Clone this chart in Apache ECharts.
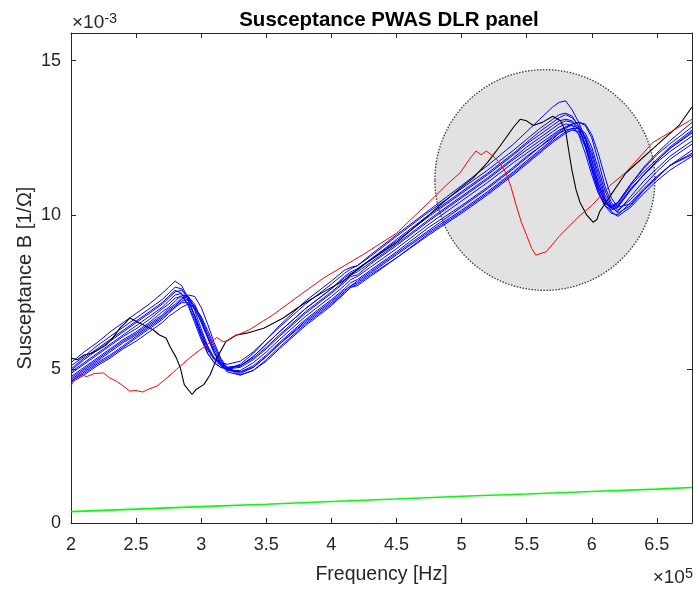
<!DOCTYPE html>
<html>
<head>
<meta charset="utf-8">
<script src="https://cdn.jsdelivr.net/npm/echarts@6/dist/echarts.min.js"></script>
<style>
html,body{margin:0;padding:0;background:#fff;}
#chart{width:696px;height:590px;}
</style>
</head>
<body>
<div id="chart"></div>
<script>
// ---------------- DATA (x in 1e5 Hz, y in 1e-3 S) ----------------
const xTicks = [2, 2.5, 3, 3.5, 4, 4.5, 5, 5.5, 6, 6.5];
const yTicks = [0, 5, 10, 15];

const greenX = [2.0, 2.5, 3.0, 3.5, 4.0, 4.5, 5.0, 5.5, 6.0, 6.5, 6.77];
const greenY = [0.37, 0.45, 0.53, 0.61, 0.70, 0.78, 0.87, 0.94, 1.02, 1.10, 1.15];

const blackX = [2.0, 2.05, 2.1, 2.15, 2.2, 2.27, 2.32, 2.38, 2.42, 2.45, 2.5, 2.53, 2.58, 2.63, 2.68, 2.73, 2.76, 2.81, 2.84, 2.87, 2.93, 2.96, 3.02, 3.07, 3.12, 3.19, 3.27, 3.35, 3.48, 3.63, 3.78, 3.94, 4.09, 4.22, 4.5, 4.75, 4.83, 5.0, 5.09, 5.2, 5.29, 5.4, 5.45, 5.5, 5.55, 5.62, 5.7, 5.76, 5.8, 5.83, 5.85, 5.88, 5.91, 5.96, 6.01, 6.04, 6.06, 6.14, 6.26, 6.47, 6.67, 6.77];
const blackY = [5.35, 5.3, 5.45, 5.5, 5.6, 5.78, 6.0, 6.35, 6.5, 6.65, 6.55, 6.48, 6.38, 6.27, 6.1, 6.0, 5.73, 5.35, 5.03, 4.49, 4.17, 4.33, 4.49, 4.82, 5.35, 5.89, 6.1, 6.16, 6.32, 6.65, 7.1, 7.5, 7.85, 8.3, 9.1, 10.0, 10.3, 10.9, 11.2, 11.7, 12.2, 12.85, 13.1, 13.05, 12.9, 13.0, 13.2, 13.05, 12.7, 11.9, 11.4, 10.8, 10.4, 10.0, 9.76, 9.85, 10.1, 10.6, 11.35, 12.15, 12.9, 13.5];

const redX = [2.0, 2.03, 2.07, 2.12, 2.18, 2.25, 2.3, 2.35, 2.4, 2.45, 2.5, 2.55, 2.6, 2.66, 2.72, 2.81, 2.91, 2.96, 3.05, 3.12, 3.16, 3.19, 3.25, 3.37, 3.55, 3.76, 3.94, 4.12, 4.24, 4.5, 4.75, 4.88, 4.99, 5.06, 5.11, 5.15, 5.19, 5.24, 5.29, 5.34, 5.38, 5.42, 5.46, 5.5, 5.54, 5.57, 5.65, 5.75, 5.83, 5.91, 6.0, 6.14, 6.26, 6.47, 6.77];
const redY = [4.45, 4.7, 4.82, 4.75, 4.85, 4.87, 4.7, 4.6, 4.45, 4.28, 4.3, 4.25, 4.35, 4.44, 4.65, 4.98, 5.35, 5.52, 5.8, 6.02, 5.9, 5.89, 6.05, 6.27, 6.75, 7.4, 7.95, 8.4, 8.7, 9.4, 10.41, 10.95, 11.37, 11.8, 12.07, 11.95, 12.07, 11.91, 11.7, 11.37, 10.9, 10.3, 9.75, 9.33, 8.9, 8.69, 8.8, 9.3, 9.65, 9.98, 10.3, 10.95, 11.37, 12.35, 13.1];

const blueX = [2.0, 2.1, 2.2, 2.3, 2.4, 2.5, 2.6, 2.7, 2.75, 2.8, 2.85, 2.9, 2.95, 3.0, 3.05, 3.1, 3.15, 3.2, 3.3, 3.4, 3.5, 3.6, 3.8, 4.0, 4.1, 4.15, 4.2, 4.3, 4.5, 4.75, 5.0, 5.2, 5.4, 5.5, 5.6, 5.7, 5.75, 5.8, 5.85, 5.9, 5.95, 6.0, 6.05, 6.1, 6.15, 6.2, 6.3, 6.4, 6.5, 6.6, 6.77];
const blue1 = [5.2,5.55,5.85,6.2,6.5,6.8,7.1,7.45,7.65,7.85,7.7,7.3,6.7,6.05,5.5,5.2,5.05,5.0,5.15,5.5,5.95,6.4,7.2,7.85,8.2,8.3,8.35,8.7,9.35,10.15,10.95,11.6,12.3,12.7,13.1,13.5,13.65,13.7,13.4,13.0,12.5,11.8,11.0,10.5,10.3,10.4,11.0,11.55,12.0,12.4,13.0];
const blue2 = [4.55,4.8,5.1,5.35,5.65,5.9,6.2,6.5,6.7,6.85,7.0,7.1,7.0,6.7,6.25,5.75,5.3,5.0,4.8,4.95,5.25,5.65,6.4,7.05,7.45,7.65,7.75,8.05,8.6,9.4,10.1,10.7,11.35,11.7,12.05,12.4,12.55,12.7,12.8,12.8,12.65,12.2,11.5,10.8,10.3,10.05,10.3,10.8,11.2,11.6,12.0];
const blue3 = [4.95,5.3,5.6,5.9,6.2,6.5,6.8,7.1,7.3,7.5,7.55,7.35,6.9,6.3,5.75,5.35,5.15,5.05,5.1,5.4,5.8,6.2,6.95,7.6,7.95,8.1,8.2,8.55,9.15,9.95,10.7,11.3,11.95,12.3,12.6,12.9,13.05,13.1,13.05,12.8,12.3,11.6,10.9,10.4,10.25,10.35,10.95,11.4,11.8,12.2,12.75];
const blue4 = [4.65,4.95,5.25,5.55,5.85,6.1,6.4,6.7,6.9,7.05,7.25,7.4,7.35,7.0,6.45,5.85,5.35,5.05,4.85,5.05,5.4,5.8,6.55,7.2,7.55,7.7,7.85,8.15,8.75,9.5,10.25,10.85,11.5,11.85,12.2,12.55,12.7,12.85,12.95,13.0,12.9,12.5,11.75,10.95,10.4,10.15,10.5,10.95,11.4,11.8,12.3];
const blue5 = [5.1,5.4,5.75,6.05,6.35,6.65,6.95,7.25,7.45,7.65,7.6,7.25,6.7,6.15,5.65,5.35,5.2,5.15,5.25,5.55,5.95,6.35,7.1,7.75,8.1,8.25,8.35,8.65,9.3,10.1,10.85,11.45,12.1,12.45,12.8,13.1,13.25,13.3,13.2,12.85,12.25,11.45,10.75,10.35,10.25,10.4,11.0,11.5,11.95,12.3,12.85];
const blue6 = [4.75,5.05,5.35,5.65,5.95,6.2,6.5,6.85,7.0,7.2,7.4,7.35,7.0,6.5,6.0,5.5,5.15,4.95,4.95,5.2,5.55,5.95,6.7,7.35,7.7,7.9,8.0,8.3,8.9,9.7,10.45,11.05,11.7,12.0,12.3,12.6,12.75,12.85,12.9,12.8,12.55,12.05,11.35,10.65,10.25,10.1,10.6,11.1,11.5,11.9,12.4];
const blue7 = [4.9,5.2,5.5,5.8,6.1,6.4,6.7,7.0,7.2,7.4,7.45,7.2,6.75,6.2,5.7,5.35,5.15,5.05,5.1,5.35,5.7,6.1,6.85,7.5,7.85,8.05,8.15,8.45,9.05,9.85,10.6,11.2,11.85,12.2,12.5,12.8,12.95,13.05,13.0,12.75,12.3,11.6,10.9,10.45,10.25,10.3,10.85,11.3,11.75,12.15,12.65];
const blue8 = [4.6,4.9,5.2,5.45,5.75,6.05,6.35,6.65,6.85,7.0,7.2,7.25,7.05,6.65,6.15,5.65,5.25,5.0,4.9,5.05,5.4,5.8,6.5,7.15,7.5,7.7,7.8,8.1,8.7,9.45,10.15,10.75,11.4,11.75,12.1,12.45,12.65,12.8,12.95,13.0,12.95,12.6,12.0,11.25,10.55,10.25,10.35,10.8,11.2,11.6,12.1];
const blue9 = [5.0,5.35,5.65,5.95,6.25,6.55,6.85,7.15,7.35,7.55,7.45,7.05,6.5,5.95,5.5,5.2,5.05,5.0,5.1,5.4,5.8,6.2,6.95,7.6,8.0,8.15,8.25,8.55,9.2,10.0,10.75,11.35,12.0,12.35,12.7,13.0,13.15,13.25,13.15,12.9,12.45,11.75,11.05,10.5,10.2,10.25,10.8,11.3,11.75,12.15,12.7];
const blue10 = [4.85,5.15,5.45,5.75,6.05,6.3,6.6,6.95,7.1,7.3,7.35,7.1,6.6,6.05,5.6,5.3,5.1,5.0,5.05,5.3,5.65,6.05,6.8,7.45,7.8,8.0,8.05,8.4,9.0,9.8,10.55,11.15,11.8,12.1,12.4,12.7,12.85,12.95,12.9,12.6,12.0,11.3,10.7,10.3,10.15,10.25,10.85,11.3,11.7,12.05,12.55];
const blue11 = [4.7,5.0,5.3,5.6,5.9,6.15,6.45,6.75,6.95,7.1,7.3,7.35,7.1,6.6,6.05,5.55,5.2,4.95,4.9,5.1,5.45,5.85,6.6,7.25,7.6,7.8,7.9,8.2,8.8,9.6,10.3,10.9,11.55,11.9,12.2,12.5,12.65,12.75,12.8,12.65,12.2,11.5,10.8,10.3,10.05,10.0,10.4,10.85,11.25,11.6,11.95];
const blue12 = [4.6,4.85,5.15,5.4,5.7,6.0,6.3,6.6,6.8,7.0,7.15,7.15,6.95,6.55,6.05,5.55,5.15,4.9,4.8,4.95,5.3,5.7,6.45,7.1,7.45,7.65,7.7,8.0,8.6,9.35,10.05,10.65,11.3,11.65,12.0,12.35,12.5,12.65,12.75,12.7,12.45,11.95,11.2,10.55,10.1,9.95,10.25,10.7,11.1,11.45,11.9];
const blueSets = [blue1, blue2, blue3, blue4, blue5, blue6, blue7, blue8, blue9, blue10, blue11, blue12];

// highlighted region (data units): centre and radii
const highlightCenter = [5.64, 11.13];
const highlightRadius = [0.845, 3.58];

// ---------------- CHART ----------------
const X_MIN = 2, X_MAX = 6.77, Y_MIN = 0, Y_MAX = 15.9;
const TXT = '#262626';
const FONT = 'Liberation Sans, Arial, Helvetica, sans-serif';
const zip = (xs, ys) => xs.map((x, i) => [x, ys[i]]);

const chart = echarts.init(document.getElementById('chart'), null, {renderer: 'canvas'});

const tickStyle = {show: true, inside: true, length: 5, lineStyle: {color: TXT, width: 1}};
const lineAxis = {show: true, onZero: false, lineStyle: {color: TXT, width: 1}};

const series = [];
series.push({
  type: 'custom', xAxisIndex: 0, yAxisIndex: 0, silent: true, z: 1,
  data: [[highlightCenter[0], highlightCenter[1], highlightRadius[0], highlightRadius[1]]],
  renderItem: function (params, api) {
    const c = api.coord([api.value(0), api.value(1)]);
    const s = api.size([api.value(2), api.value(3)]);
    return {type: 'ellipse', shape: {cx: c[0], cy: c[1], rx: s[0], ry: s[1]},
      style: {fill: '#e2e2e2', stroke: '#3a3a3a', lineWidth: 1.3, lineDash: [1.5, 1.5]}};
  }
});
series.push({type: 'line', data: zip(greenX, greenY), symbol: 'none', z: 3,
  lineStyle: {color: '#00ff00', width: 1.6}});
blueSets.forEach(function (b) {
  series.push({type: 'line', data: zip(blueX, b), symbol: 'none', z: 3,
    lineStyle: {color: '#0000ff', width: 1}});
});
series.push({type: 'line', data: zip(blackX, blackY), symbol: 'none', z: 4,
  lineStyle: {color: '#000000', width: 1.1}});
series.push({type: 'line', data: zip(redX, redY), symbol: 'none', z: 5,
  lineStyle: {color: '#ff0000', width: 1}});

const isTick = (arr, v) => arr.some(t => Math.abs(t - v) < 1e-9);

chart.setOption({
  animation: false,
  backgroundColor: '#ffffff',
  textStyle: {fontFamily: FONT},
  title: {
    text: 'Susceptance PWAS DLR panel', left: 384, top: 5, textAlign: 'center',
    textStyle: {fontFamily: FONT, fontSize: 20.5, fontWeight: 'bold', color: '#000'}
  },
  grid: {left: 71, right: 4, top: 33, bottom: 64, containLabel: false},
  xAxis: [{
    type: 'value', min: X_MIN, max: X_MAX, interval: 0.5, position: 'bottom',
    name: 'Frequency [Hz]', nameLocation: 'middle', nameGap: 42, nameMoveOverlap: false,
    nameTextStyle: {fontFamily: FONT, fontSize: 19.5, color: TXT},
    axisLine: lineAxis, axisTick: tickStyle, splitLine: {show: false},
    axisLabel: {fontFamily: FONT, fontSize: 18, color: TXT, margin: 13, showMaxLabel: false,
      formatter: v => isTick(xTicks, v) ? String(v) : ''}
  }, {
    type: 'value', min: X_MIN, max: X_MAX, interval: 0.5, position: 'top',
    axisLine: lineAxis, axisTick: tickStyle, axisLabel: {show: false}, splitLine: {show: false}
  }],
  yAxis: [{
    type: 'value', min: Y_MIN, max: Y_MAX, interval: 5, position: 'left',
    name: 'Susceptance B [1/Ω]', nameLocation: 'middle', nameGap: 36, nameMoveOverlap: false,
    nameTextStyle: {fontFamily: FONT, fontSize: 20, color: TXT},
    axisLine: lineAxis, axisTick: tickStyle, splitLine: {show: false},
    axisLabel: {fontFamily: FONT, fontSize: 18, color: TXT, margin: 10, showMaxLabel: false,
      formatter: v => isTick(yTicks, v) ? String(v) : ''}
  }, {
    type: 'value', min: Y_MIN, max: Y_MAX, interval: 5, position: 'right',
    axisLine: lineAxis, axisTick: tickStyle, axisLabel: {show: false}, splitLine: {show: false}
  }],
  graphic: [{
    type: 'text', left: 72, top: 11,
    style: {text: '×10{sup|-3}', fill: TXT, font: '19px ' + FONT,
      rich: {sup: {fontSize: 14.5, verticalAlign: 'top', padding: [0, 0, 9, 0], fontFamily: FONT, fill: TXT}}}
  }, {
    type: 'text', right: 3, top: 566,
    style: {text: '×10{sup|5}', fill: TXT, font: '19px ' + FONT,
      rich: {sup: {fontSize: 14.5, verticalAlign: 'top', padding: [0, 0, 9, 0], fontFamily: FONT, fill: TXT}}}
  }],
  series: series
});
</script>
</body>
</html>
